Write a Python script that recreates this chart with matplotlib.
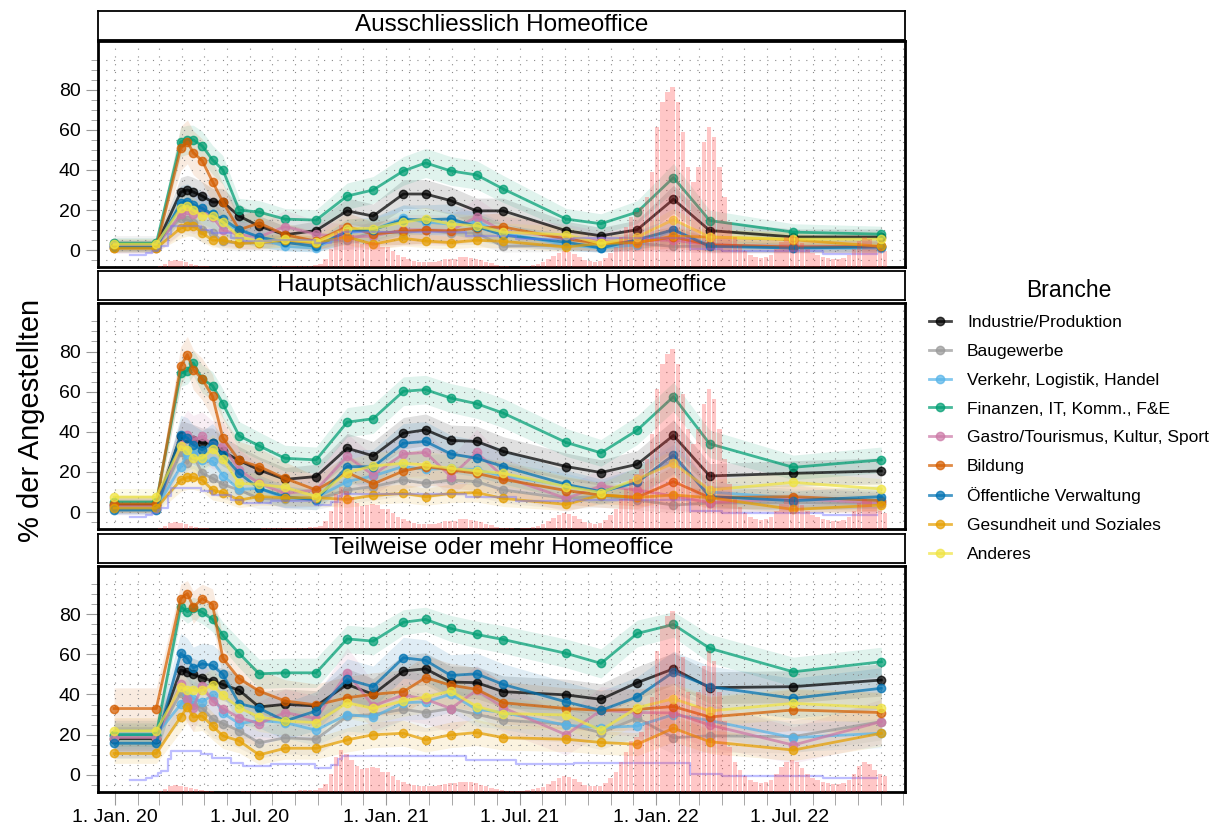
import matplotlib
matplotlib.use("Agg")
import matplotlib.pyplot as plt
import matplotlib.dates as mdates
from matplotlib.lines import Line2D
from matplotlib.ticker import FixedLocator, FuncFormatter
import numpy as np
import pandas as pd

plt.rcParams['font.family'] = ['Liberation Sans', 'DejaVu Sans']

branchen = ['Industrie/Produktion', 'Baugewerbe', 'Verkehr, Logistik, Handel',
            'Finanzen, IT, Komm., F&E', 'Gastro/Tourismus, Kultur, Sport', 'Bildung',
            'Öffentliche Verwaltung', 'Gesundheit und Soziales', 'Anderes']
farben = ['#000000', '#999999', '#56B4E9', '#009E73', '#CC79A7', '#D55E00',
          '#0072B2', '#E69F00', '#F0E442']
# grobe Stichprobengrösse je Branche (für die Vertrauensbänder)
stichprobe = [150, 90, 120, 180, 60, 80, 90, 150, 150]

umfragen = pd.to_datetime([
    '2019-12-31', '2020-02-26', '2020-03-30', '2020-04-08', '2020-04-16', '2020-04-28',
    '2020-05-12', '2020-05-26', '2020-06-17', '2020-07-14', '2020-08-18', '2020-09-29',
    '2020-11-10', '2020-12-15', '2021-01-25', '2021-02-24', '2021-03-30', '2021-05-04',
    '2021-06-09', '2021-09-02', '2021-10-19', '2021-12-07', '2022-01-25', '2022-03-15',
    '2022-07-06', '2022-11-02'])

# Ausschliesslich Homeoffice
aus_industrie = [2.5, 2.5, 29, 30, 29, 27, 24, 24, 17, 12, 7.7, 9.8, 19.6, 17, 28, 28, 24.7, 19.6, 19.6, 9.7, 7.2, 10.2, 25.4, 9.8, 6.6, 6.6]
aus_bau = [3.5, 3.5, 16, 15, 13.8, 10.2, 8.6, 4.4, 3.4, 3.8, 3.4, 3.4, 5, 9, 8.6, 10, 8.6, 8.6, 1.9, 2.7, 2.7, 3.4, 1.9, 1.9, 1.6, 1.6]
aus_verkehr = [2, 2, 22.7, 23, 20.4, 20.4, 17.8, 13, 10.2, 6, 1.9, 1.1, 8.6, 10.2, 16, 14, 13, 14, 8.6, 2.7, 1, 2.7, 10, 2.7, 1, 1]
aus_finanzen = [3.5, 3.5, 54, 55, 55, 52, 45, 40, 20, 19, 15.5, 15, 27, 30, 39.5, 43.5, 39.5, 37.5, 30.5, 15.5, 13.2, 19, 36.2, 14.8, 9, 8]
aus_gastro = [2, 2, 17.8, 20, 17.8, 20, 16.5, 10, 7.7, 6.6, 11.8, 7.9, 6.6, 7, 10.2, 10.2, 9.8, 16.6, 9.5, 6.6, 4.4, 5, 5, 2.7, 1.9, 1.9]
aus_bildung = [1.2, 1.2, 50.7, 54, 48.6, 44.6, 34.2, 24, 10.2, 13.5, 7.7, 4.5, 11.8, 8, 9.5, 10, 9.5, 11, 11.6, 5.5, 3.5, 3.9, 6.6, 2.7, 1.6, 1.9]
aus_oeffentlich = [1.5, 1.5, 23.4, 24.2, 22.7, 20.9, 17.8, 15.6, 10.2, 6.6, 3.9, 1.9, 9.5, 10.2, 15.2, 15.2, 15.6, 11.8, 7.5, 4, 1.1, 5.2, 10.2, 1.9, 1.1, 1.6]
aus_gesundheit = [1, 1, 11, 12.2, 12.2, 8.6, 5, 5, 3.4, 3.8, 5, 3.8, 6.6, 3, 5.9, 4.6, 3.8, 5, 4.4, 1.6, 3.4, 3.8, 7, 6.6, 5.2, 1.9]
aus_anderes = [3, 3, 20.9, 22, 20, 17, 17, 14, 6.8, 4.1, 5.5, 4.1, 10.8, 10.8, 14, 15.6, 13, 12.2, 9, 7.7, 3.4, 6.6, 15.2, 6.6, 5.5, 5.5]

# Hauptsächlich/ausschliesslich Homeoffice
haupt_industrie = [3.5, 3.5, 37.7, 36.8, 36, 34.3, 34.3, 30.2, 25.7, 21, 16.3, 17.7, 31.8, 28, 39.3, 41, 35.7, 35.2, 30.2, 22.7, 19.7, 23.8, 38.2, 18, 19.3, 20.5]
haupt_bau = [2.5, 2.5, 29.7, 24.3, 28.5, 19.3, 16.8, 13.8, 11, 6.8, 6.3, 6.3, 11, 12.7, 16, 14.3, 16, 15.2, 11, 6.8, 8, 6, 3.5, 4.5, 4.8, 4.3]
haupt_verkehr = [2, 2, 22.7, 29, 30, 26, 25.3, 18.2, 11.3, 11.8, 6.8, 7.2, 15.2, 18, 22.7, 21.3, 21.8, 21, 18, 13.3, 9.7, 15.7, 26, 10, 7, 6]
haupt_finanzen = [5, 5, 69.3, 70.5, 74.3, 66.3, 63, 54, 38, 33, 26.8, 26, 44.8, 46.5, 60.2, 61, 56.8, 54, 49.3, 34.7, 29.5, 40.8, 57.5, 34, 22.3, 26]
haupt_gastro = [3, 3, 33.5, 38.5, 36, 37.7, 33.5, 33, 21, 14.3, 9.3, 11, 27.7, 18.5, 29, 29.7, 17.7, 29.7, 17.7, 6.8, 13, 11, 8, 4.7, 6.8, 4.3]
haupt_bildung = [4, 4, 72.7, 78.5, 71, 66.3, 57.7, 36.8, 25.7, 22.7, 16.8, 11, 19.7, 14, 20.5, 22.7, 21, 19.3, 16.3, 10.7, 8.5, 7.3, 15.2, 7.2, 7.7, 5.7]
haupt_oeffentlich = [1, 1, 38.2, 37, 33.5, 31, 34.3, 28.5, 19.3, 11.8, 7.7, 6, 22.7, 22.5, 34.3, 35.2, 29, 26.8, 22.7, 13.8, 10.2, 14.8, 28.5, 7.7, 5.7, 7.7]
haupt_gesundheit = [2, 2, 16, 17.3, 17.3, 16, 11, 9.7, 6, 7.7, 7.2, 7.2, 6.3, 8.3, 9.3, 7.7, 9.3, 9.7, 6.8, 3.8, 8.5, 7.3, 8.5, 7.2, 1.3, 3.5]
haupt_anderes = [7.5, 7.5, 32.7, 31, 26.8, 26.8, 31.3, 26.3, 14.3, 13.8, 12.3, 7.7, 19.7, 23, 24.3, 23.5, 21.8, 20.5, 19.3, 12.7, 9.7, 16.5, 24.3, 11, 14.8, 11.5]

# Teilweise oder mehr Homeoffice
teil_industrie = [18, 18, 52.2, 51.3, 50, 48.4, 46.7, 45, 42.1, 33.8, 35.1, 34.3, 45, 40.1, 51.7, 52.8, 46.2, 45.9, 41.4, 39.8, 37.6, 45.9, 52.8, 43.4, 43.9, 47.2]
teil_bau = [19, 19, 40.6, 37, 34.8, 33.4, 27.7, 25.5, 21.9, 15.9, 18.4, 17.7, 29.2, 30, 32.6, 31, 33, 30.1, 27.2, 25.2, 21, 28.2, 18.5, 19.4, 19, 26.5]
teil_verkehr = [20, 20, 35.1, 40, 38, 36.3, 39.6, 30.7, 25.5, 27, 26, 22.2, 30, 28.8, 35.9, 36.3, 40.1, 32.6, 31, 24.7, 23.5, 24.3, 30, 27, 18.5, 20.7]
teil_finanzen = [20, 20, 83.8, 81.2, 83, 81, 77.4, 69.4, 60.5, 50.3, 50.8, 50.8, 67.7, 66.6, 76, 77.4, 72.9, 69.9, 67.4, 60.5, 55.5, 70.4, 74.9, 63, 51.3, 56.3]
teil_gastro = [18.5, 18.5, 45, 37.6, 33.4, 44.2, 36.8, 33, 28.5, 25.5, 31, 28, 50.8, 34.3, 39.8, 37.6, 33, 42.1, 33.4, 19.9, 32.1, 31, 30.8, 24.8, 14.8, 26.5]
teil_bildung = [33, 33, 87.8, 90.3, 83.5, 87.8, 84.8, 58, 47.9, 41.7, 36.8, 34.8, 38.4, 40.1, 41.4, 48.4, 44.6, 42.6, 35.9, 33, 32.1, 32.6, 34, 28.8, 32.3, 31]
teil_oeffentlich = [15.7, 15.7, 60.5, 57.8, 53.3, 55.3, 54.5, 50, 35.4, 33.1, 26.8, 31.8, 47.5, 43.9, 58.3, 57, 49.5, 50.3, 45, 36.3, 32.1, 38.8, 51.2, 43.9, 38.1, 43.1]
teil_gesundheit = [10.6, 10.6, 28.8, 33.8, 28.8, 29.3, 24.3, 19.4, 16.9, 9.9, 13.2, 13.2, 17.4, 19.9, 20.7, 17.4, 19.9, 21, 18.5, 17.7, 16.1, 15.2, 23.2, 16.5, 12.3, 20.7]
teil_anderes = [21.9, 21.9, 43.7, 42.1, 42.1, 42.1, 44.7, 39.6, 33.4, 28.8, 26.8, 26, 35.8, 33.1, 36.8, 38.8, 41.7, 34, 30.5, 29.8, 22.2, 33.4, 37.9, 31.8, 35.6, 33.4]

panels = [
    ('Ausschliesslich Homeoffice', [aus_industrie, aus_bau, aus_verkehr, aus_finanzen, aus_gastro,
                                    aus_bildung, aus_oeffentlich, aus_gesundheit, aus_anderes]),
    ('Hauptsächlich/ausschliesslich Homeoffice', [haupt_industrie, haupt_bau, haupt_verkehr, haupt_finanzen, haupt_gastro,
                                                  haupt_bildung, haupt_oeffentlich, haupt_gesundheit, haupt_anderes]),
    ('Teilweise oder mehr Homeoffice', [teil_industrie, teil_bau, teil_verkehr, teil_finanzen, teil_gastro,
                                        teil_bildung, teil_oeffentlich, teil_gesundheit, teil_anderes]),
]

# Fallzahlen (Tsd. pro Tag, wöchentlich) im Hintergrund
faelle_start = '2020-02-24'
faelle = [0.05, 0.2, 0.65, 1.3, 1.5, 1.3, 1.1, 0.75, 0.55, 0.3, 0.2, 0.13,
          0.06, 0.05, 0.05, 0.05, 0.06, 0.08, 0.12, 0.13, 0.13, 0.14, 0.15,
          0.2, 0.22, 0.25, 0.24, 0.25, 0.32, 0.33, 0.35, 0.45, 0.75, 1.7, 3.9,
          7.5, 9.0, 8.2, 6.9, 5.6, 4.9, 5.2, 5.4, 5.2, 4.3, 4.3, 3.4, 2.6, 2.2,
          1.7, 1.4, 1.2, 1.2, 1.2, 1.2, 1.4, 1.7, 1.8, 1.8, 2.15, 2.15, 2.05,
          1.8, 1.5, 1.2, 0.86, 0.54, 0.32, 0.22, 0.15, 0.13, 0.17, 0.32, 0.54,
          0.75, 1.1, 1.7, 2.4, 3.0, 3.4, 3.2, 2.8, 2.15, 1.5, 1.3, 1.2, 1.3,
          1.9, 3.0, 4.3, 6.5, 8.6, 10.8, 11.8, 12.9, 15.1, 20.4, 30.1, 35.5,
          37.6, 38.7, 35.5, 29.0, 21.5, 18.3, 21.5, 26.9, 30.1, 28.0, 21.5,
          15.1, 9.7, 6.5, 4.7, 3.4, 2.6, 2.15, 1.9, 2.15, 2.6, 3.9, 5.4, 6.5,
          6.9, 6.5, 5.2, 3.9, 3.0, 2.6, 2.15, 1.9, 1.7, 1.7, 1.9, 2.6, 3.9,
          5.6, 6.5, 6.0, 4.7, 3.9, 3.4]
faelle_daten = pd.date_range(faelle_start, periods=len(faelle), freq='7D')

# Massnahmen-Index (skaliert), Stufen
massnahmen_daten = pd.to_datetime([
    '2020-01-21', '2020-02-12', '2020-02-20', '2020-02-28', '2020-03-04', '2020-03-13',
    '2020-03-17', '2020-04-27', '2020-05-11', '2020-06-06', '2020-06-22', '2020-07-30',
    '2020-09-28', '2020-10-19', '2020-10-29', '2020-11-03', '2021-04-19', '2021-06-26',
    '2021-09-13', '2022-02-17', '2022-04-01', '2022-08-15', '2022-10-27'])
massnahmen = [-2.6, -1.5, -0.5, 0.8, 2, 8, 12, 10.3, 8.6, 6.1, 4.5, 5.3,
              3.6, 5, 8, 9.2, 7.3, 5.6, 6.1, 0.6, -0.5, -1.7, -1.7]

monate = {1: 'Jan.', 7: 'Jul.'}


def datum_label(x, pos):
    d = mdates.num2date(x)
    return '1. %s %02d' % (monate.get(d.month, ''), d.year % 100)


fig = plt.figure(figsize=(12.23, 8.3), dpi=100)
L, W, H = 0.080, 0.660, 0.272
lagen = [(0.678, 0.952), (0.3625, 0.639), (0.046, 0.322)]

for i, ((titel, werte), (unten, streifen)) in enumerate(zip(panels, lagen)):
    ax = fig.add_axes([L, unten, W, H])
    for name, farbe, n, y in zip(branchen, farben, stichprobe, werte):
        y = np.array(y)
        hw = 1.96 * np.sqrt(y * (100 - y) / n)
        ax.fill_between(umfragen, y - hw, y + hw, color=farbe, alpha=0.12, lw=0)
    for name, farbe, y in zip(branchen, farben, werte):
        ax.plot(umfragen, y, '-o', color=farbe, lw=2, ms=6, alpha=0.72)
    ax.plot(massnahmen_daten, massnahmen, drawstyle='steps-post', color='#7070ff',
            alpha=0.45, lw=1.6)

    axb = ax.twinx()
    axb.bar(faelle_daten, faelle, width=6, color='#ff3030', alpha=0.27, lw=0)
    axb.set_ylim(0, 48.4)
    axb.axis('off')

    ax.set_xlim(pd.Timestamp('2019-12-09'), pd.Timestamp('2022-12-04'))
    ax.set_ylim(-8.5, 104)
    ax.yaxis.set_major_locator(FixedLocator([0, 20, 40, 60, 80]))
    ax.yaxis.set_minor_locator(FixedLocator(list(range(-5, 100, 5))))
    ax.xaxis.set_major_locator(mdates.MonthLocator(bymonth=[1, 7]))
    ax.xaxis.set_minor_locator(mdates.MonthLocator())
    ax.xaxis.set_major_formatter(FuncFormatter(datum_label))
    ax.grid(which='both', ls=(0, (1, 6)), color='#8a8a8a', lw=0.8)
    ax.tick_params(axis='y', which='major', length=9, color='#999999', labelsize=14)
    ax.tick_params(axis='y', which='minor', length=5, color='#999999')
    if i < 2:
        ax.tick_params(axis='x', which='both', bottom=False, labelbottom=False)
    else:
        ax.tick_params(axis='x', which='both', length=9, color='#999999', labelsize=14)
    for sp in ax.spines.values():
        sp.set_linewidth(2)

    st = fig.add_axes([L, streifen, W, 0.035])
    st.set_xticks([])
    st.set_yticks([])
    for sp in st.spines.values():
        sp.set_linewidth(1.3)
    st.text(0.5, 0.5, titel, ha='center', va='center', fontsize=17.5, transform=st.transAxes)

fig.text(0.025, 0.494, '% der Angestellten', rotation=90, ha='center', va='center', fontsize=21)

griffe = [Line2D([0], [0], color=c, marker='o', lw=2, ms=6, alpha=0.72) for c in farben]
leg = fig.legend(griffe, branchen, title='Branche', loc='center left',
                 bbox_to_anchor=(0.7466, 0.4936), frameon=False, fontsize=12.5,
                 title_fontsize=16.5, labelspacing=0.78, handlelength=1.3,
                 handletextpad=0.9)

fig.savefig('out.png', dpi=100)
